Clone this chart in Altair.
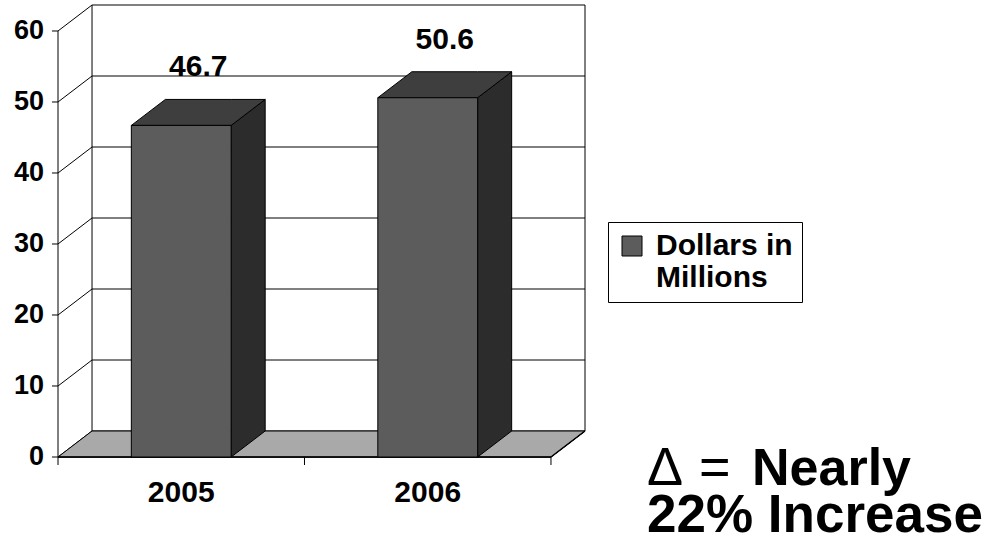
import altair as alt
import pandas as pd

# ---- data ----
years = ["2005", "2006"]
values = [46.7, 50.6]
y_ticks = [0, 10, 20, 30, 40, 50, 60]
series_name = "Dollars in Millions"

# ---- 3D geometry (in scale units) ----
centers = [0.5, 1.5]      # category centres on a 0..2 band axis
HW = 0.2025               # half bar width
DX = 0.138                # depth offset along x
DY = 3.66                 # depth offset along y
TICK = 0.0245             # length of the value-axis ticks, x units
YMAX = 60
NCAT = len(years)

xs = alt.Scale(domain=[0, NCAT + DX], nice=False, zero=False)
ys = alt.Scale(domain=[0, YMAX + DY], nice=False, zero=False)

FONT = "Liberation Sans"

# back wall & left wall grid lines
grid_rows = []
for v in y_ticks:
    grid_rows.append(dict(x=DX, x2=NCAT + DX, y=v + DY, y2=v + DY))   # back wall horizontal
    grid_rows.append(dict(x=0, x2=DX, y=v, y2=v + DY))                # left wall diagonal
    grid_rows.append(dict(x=-TICK, x2=0, y=v, y2=v))                  # value-axis tick
grid_rows.append(dict(x=DX, x2=DX, y=DY, y2=YMAX + DY))               # back wall left edge
grid_rows.append(dict(x=NCAT + DX, x2=NCAT + DX, y=DY, y2=YMAX + DY))  # back wall right edge
grid_rows.append(dict(x=0, x2=0, y=0, y2=YMAX))                       # front value axis
grid_rows.append(dict(x=0, x2=NCAT, y=0, y2=0))                       # floor front edge
grid_rows.append(dict(x=NCAT, x2=NCAT + DX, y=0, y2=DY))              # floor right edge
grid_df = pd.DataFrame(grid_rows)

# floor polygon
floor_df = pd.DataFrame([
    dict(id="floor", x=0, lo=0, hi=0),
    dict(id="floor", x=DX, lo=0, hi=DY),
    dict(id="floor", x=NCAT, lo=0, hi=DY),
    dict(id="floor", x=NCAT + DX, lo=DY, hi=DY),
])

# bar faces
front_rows, side_rows, top_rows, label_rows = [], [], [], []
for yr, c, v in zip(years, centers, values):
    front_rows.append(dict(year=yr, x=c - HW, x2=c + HW, y=0, y2=v, series=series_name))
    side_rows += [dict(id="s" + yr, x=c + HW, lo=0, hi=v),
                  dict(id="s" + yr, x=c + HW + DX, lo=DY, hi=v + DY)]
    top_rows += [dict(id="t" + yr, x=c - HW, lo=v, hi=v),
                 dict(id="t" + yr, x=c - HW + DX, lo=v, hi=v + DY),
                 dict(id="t" + yr, x=c + HW, lo=v, hi=v + DY),
                 dict(id="t" + yr, x=c + HW + DX, lo=v + DY, hi=v + DY)]
    label_rows.append(dict(year=yr, x=c + DX / 2, v=v, txt=f"{v:.1f}", c=c))
front_df = pd.DataFrame(front_rows)
side_df = pd.DataFrame(side_rows)
top_df = pd.DataFrame(top_rows)
label_df = pd.DataFrame(label_rows)
tick_df = pd.DataFrame(dict(x=list(range(NCAT + 1))))
ytick_df = pd.DataFrame(dict(v=y_ticks, lab=[str(t) for t in y_ticks], x0=[0] * len(y_ticks)))


def X(f):
    return alt.X(f, scale=xs, axis=None)


def Y(f):
    return alt.Y(f, scale=ys, axis=None)


# invisible layer that carries an (invisible) axis definition
axis_layer = alt.Chart(ytick_df).mark_tick(opacity=0).encode(
    y=alt.Y("v:Q", scale=ys,
            axis=alt.Axis(values=y_ticks, domain=False, grid=False, title=None,
                          ticks=False, labels=False)),
    x=alt.X("x0:Q", scale=xs, axis=None),
)

ytick_labels = alt.Chart(ytick_df).mark_text(
    font=FONT, fontWeight="bold", fontSize=27, color="black",
    align="right", baseline="middle", dx=-14).encode(
    x=X("x0:Q"), y=Y("v:Q"), text="lab:N",
)

grid = alt.Chart(grid_df).mark_rule(color="black", strokeWidth=1).encode(
    x=X("x:Q"), x2="x2:Q", y=Y("y:Q"), y2="y2:Q",
)

floor = alt.Chart(floor_df).mark_area(color="#a9a9a9", stroke="black",
                                      strokeWidth=1, interpolate="linear").encode(
    x=X("x:Q"), y=Y("hi:Q"), y2="lo:Q", detail="id:N",
)

floor_edges = alt.Chart(grid_df.iloc[-2:]).mark_rule(color="black", strokeWidth=1.5).encode(
    x=X("x:Q"), x2="x2:Q", y=Y("y:Q"), y2="y2:Q",
)

xticks = alt.Chart(tick_df).mark_rule(color="black", strokeWidth=1).encode(
    x=X("x:Q"), y=alt.datum(0, scale=ys), y2=alt.value(460),
)

side = alt.Chart(side_df).mark_area(color="#2c2c2c", stroke="black",
                                    strokeWidth=1, interpolate="linear").encode(
    x=X("x:Q"), y=Y("hi:Q"), y2="lo:Q", detail="id:N",
)

top = alt.Chart(top_df).mark_area(color="#3e3e3e", stroke="black",
                                  strokeWidth=1, interpolate="linear").encode(
    x=X("x:Q"), y=Y("hi:Q"), y2="lo:Q", detail="id:N",
)

front = alt.Chart(front_df).mark_rect(stroke="black", strokeWidth=1).encode(
    x=X("x:Q"), x2="x2:Q", y=Y("y:Q"), y2="y2:Q",
    color=alt.Color("series:N", scale=alt.Scale(range=["#5c5c5c"]),
                    legend=alt.Legend(title=None, orient="none", legendX=550, legendY=217,
                                      symbolType="square", symbolSize=400,
                                      symbolStrokeColor="black", symbolStrokeWidth=1,
                                      labelFont=FONT, labelFontWeight="bold",
                                      labelFontSize=30, labelColor="black",
                                      labelExpr="['Dollars in', 'Millions']",
                                      labelOffset=9, labelLimit=400,
                                      strokeColor="black", fillColor="white", padding=9)),
)

value_labels = alt.Chart(label_df).mark_text(font=FONT, fontWeight="bold", fontSize=30,
                                             color="black", baseline="alphabetic",
                                             dy=-49).encode(
    x=X("x:Q"), y=Y("v:Q"), text="txt:N",
)

year_labels = alt.Chart(label_df).mark_text(font=FONT, fontWeight="bold", fontSize=30,
                                            color="black", baseline="alphabetic").encode(
    x=X("c:Q"), y=alt.value(497), text="year:N",
)

# annotation text (positions in pixels relative to the plot area)
delta_df = pd.DataFrame([dict(t="Δ", px=589, py=480), dict(t="=", px=641, py=480)])
line1_df = pd.DataFrame([dict(t="Nearly", px=694, py=480)])
line2_df = pd.DataFrame([dict(t="22% Increase", px=589, py=527)])


def ann(df, size, weight):
    return alt.Chart(df).mark_text(
        font=FONT, fontSize=size, fontWeight=weight, color="black",
        align="left", baseline="alphabetic").encode(
        x=alt.X("px:Q", scale=None), y=alt.Y("py:Q", scale=None), text="t:N")


chart = alt.layer(
    axis_layer, grid, floor, floor_edges, xticks, ytick_labels, side, top, front,
    value_labels, year_labels,
    ann(delta_df, 54, "normal"), ann(line1_df, 52, "bold"), ann(line2_df, 53, "bold"),
).properties(
    width=527, height=452,
    autosize=alt.AutoSizeParams(type="none"),
    padding={"left": 58, "top": 5, "right": 417, "bottom": 93},
    background="white",
).configure_view(stroke=None)

chart.save("out.html", embed_options={"renderer": "svg", "actions": False})
